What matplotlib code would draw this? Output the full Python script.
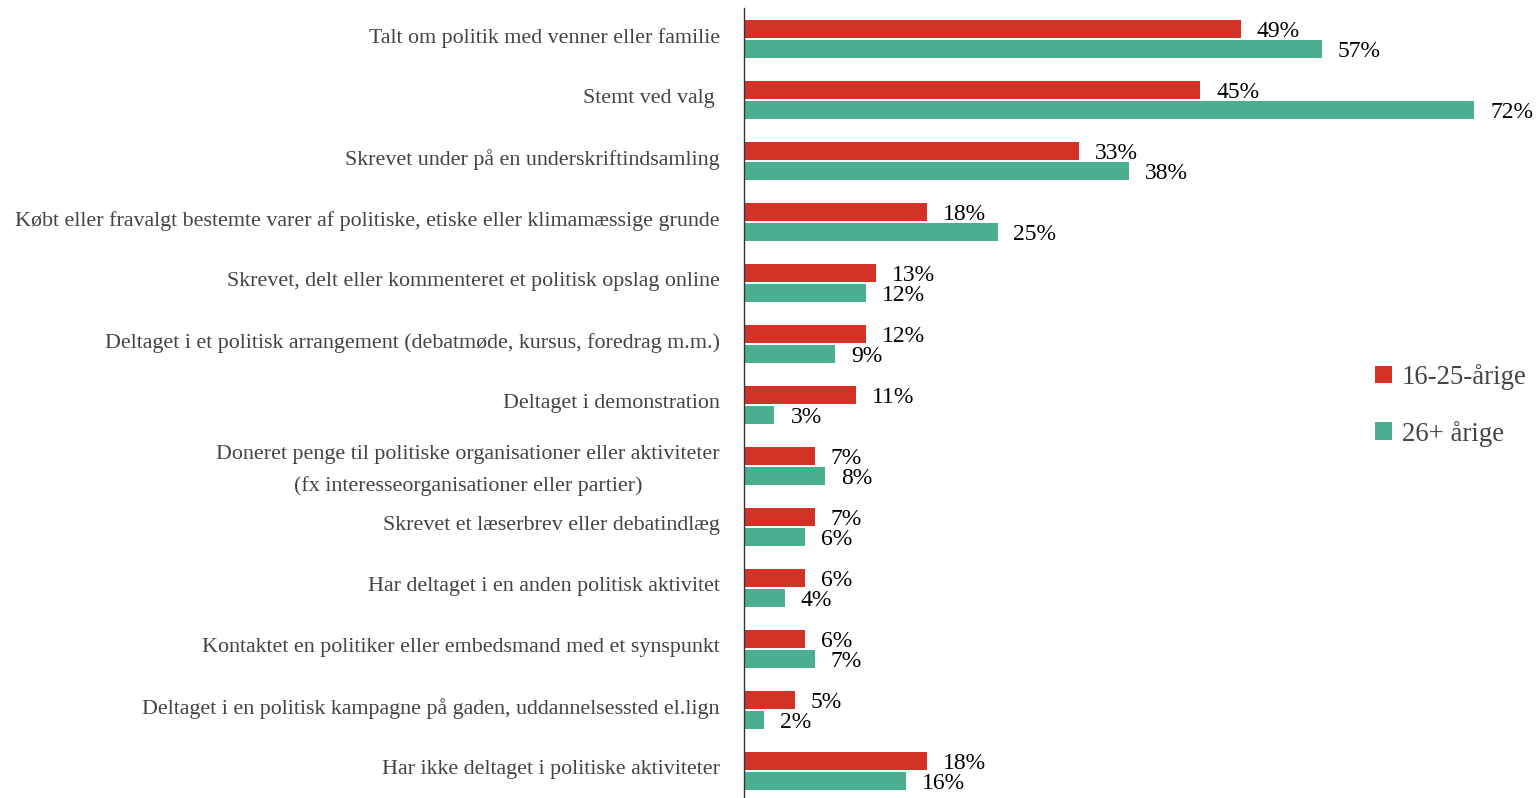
import matplotlib.pyplot as plt
import matplotlib.transforms as mtransforms
import numpy as np

categories = [
    'Talt om politik med venner eller familie',
    'Stemt ved valg ',
    'Skrevet under på en underskriftindsamling',
    'Købt eller fravalgt bestemte varer af politiske, etiske eller klimamæssige grunde',
    'Skrevet, delt eller kommenteret et politisk opslag online',
    'Deltaget i et politisk arrangement (debatmøde, kursus, foredrag m.m.)',
    'Deltaget i demonstration',
    'Doneret penge til politiske organisationer eller aktiviteter\n(fx interesseorganisationer eller partier)',
    'Skrevet et læserbrev eller debatindlæg',
    'Har deltaget i en anden politisk aktivitet',
    'Kontaktet en politiker eller embedsmand med et synspunkt',
    'Deltaget i en politisk kampagne på gaden, uddannelsessted el.lign',
    'Har ikke deltaget i politiske aktiviteter',
]
young = [49, 45, 33, 18, 13, 12, 11, 7, 7, 6, 6, 5, 18]
older = [57, 72, 38, 25, 12, 9, 3, 8, 6, 4, 7, 2, 16]
series_names = ['16-25-årige', '26+ årige']

red = '#D33227'
green = '#4AAF91'

plt.rcParams['font.family'] = ['Liberation Serif', 'DejaVu Serif']

fig = plt.figure(figsize=(15.37, 7.98), dpi=100)
ax = fig.add_axes([744 / 1537, 0, 1 - 744 / 1537, 1 - 8 / 798])

y = np.arange(len(categories))
h = 0.3
off = 0.164
b1 = ax.barh(y - off, young, height=h, color=red, label=series_names[0])
b2 = ax.barh(y + off, older, height=h, color=green, label=series_names[1])

for bars, vals in [(b1, young), (b2, older)]:
    for bar, v in zip(bars, vals):
        ax.annotate(f'{v}%', (bar.get_width(), bar.get_y() + bar.get_height() / 2),
                    xytext=(11.5, -1.6), textcoords='offset points',
                    ha='left', va='center', fontsize=17, color='black')

ax.set_xlim(0, 78.2)
ax.set_ylim(12.44, -0.51)
ax.set_yticks(y)
ax.set_yticklabels(categories, fontsize=15.8, color='#444444',
                   linespacing=1.8)
ax.tick_params(axis='y', length=0, pad=0)
ax.set_xticks([])
for s in ['top', 'right', 'bottom']:
    ax.spines[s].set_visible(False)
ax.spines['left'].set_color('#333333')
ax.spines['left'].set_linewidth(1)

shift = mtransforms.ScaledTranslation(-24 / 100, 4 / 100, fig.dpi_scale_trans)
for lbl in ax.get_yticklabels():
    lbl.set_multialignment('center')
    lbl.set_transform(lbl.get_transform() + shift)

ax.legend(loc='center left', bbox_to_anchor=(0.765, 0.497), frameon=False,
          fontsize=19.3, handlelength=0.65, handleheight=0.65, labelspacing=1.15,
          handletextpad=0.35, labelcolor='#444444')

fig.savefig('out.png', dpi=100)
